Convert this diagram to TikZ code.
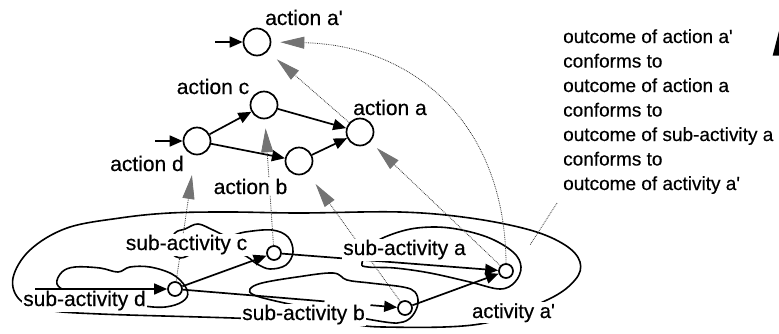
\documentclass[tikz,border=0pt]{standalone}
\usepackage{fontspec}
\setmainfont{Liberation Sans}[FakeBold=0.4]
\usetikzlibrary{arrows.meta,calc}

\begin{document}
\begin{tikzpicture}[x=1pt,y=-1pt,
  act/.style={circle,draw,line width=1.7pt,minimum size=27pt,inner sep=0pt,fill=white},
  subact/.style={circle,draw,line width=1.7pt,minimum size=14pt,inner sep=0pt,fill=white},
  flow/.style={line width=1.7pt,-{Triangle[length=13pt,width=11pt]}},
  conf/.style={densely dotted,line width=0.8pt,black!80,-{Triangle[length=24pt,width=12pt,color=black!55]}},
  pointer/.style={densely dotted,line width=0.8pt,black!80},
  blob/.style={line width=1.6pt},
  lbl/.style={font=\fontsize{21}{21}\selectfont,fill=white,inner sep=1.2pt,anchor=base},
  slbl/.style={font=\fontsize{21}{21}\selectfont,fill=white,inner sep=1.2pt,anchor=base},
  note/.style={font=\fontsize{19}{20}\selectfont,anchor=base west,inner sep=0pt}]
\useasboundingbox (0,0) rectangle (779,333);

% ---- activity a' and its sub-activities (hand-drawn outlines)
\draw[blob] plot[smooth cycle,tension=0.6] coordinates {
  (13,278) (30,250) (67,228) (120,218) (170,213) (230,212) (300,213) (400,212)
  (470,218) (530,230) (565,245) (580,262) (575,280) (547,300) (480,324)
  (383,327) (333,322) (233,318) (100,314) (47,310) (20,300)};
% sub-activity d
\draw[blob] plot[smooth cycle,tension=0.6] coordinates {
  (57,284) (62,272) (75,267) (100,268) (118,272) (130,267) (150,267) (172,274)
  (185,286) (187,297) (175,305) (153,307) (110,300) (70,292)};
% sub-activity c
\draw[blob] plot[smooth cycle,tension=0.6] coordinates {
  (185,229) (198,224) (213,230) (228,236) (245,232) (272,230) (288,237)
  (293,252) (286,265) (270,269) (257,264) (240,254) (200,252) (180,258)
  (168,248) (175,233)};
% sub-activity b
\draw[blob] plot[smooth cycle,tension=0.6] coordinates {
  (250,289) (262,283) (297,277) (333,273) (347,280) (370,283) (403,287)
  (415,292) (418,303) (413,315) (403,322) (385,322) (330,312) (280,302) (254,295)};
% sub-activity a
\draw[blob] plot[smooth cycle,tension=0.6] coordinates {
  (362,263) (372,245) (390,235) (417,228) (450,228) (487,237) (513,252)
  (521,267) (515,282) (500,289) (470,282) (430,273) (395,268) (368,267)};

% ---- action nodes
\node[act] (aap) at (257,42) {};
\node[act] (ac)  at (264,105) {};
\node[act] (ad)  at (197,141) {};
\node[act] (ab)  at (299,161) {};
\node[act] (aa)  at (360,132) {};
\coordinate (inap) at (215,42);
\coordinate (inad) at (155,141);

% ---- sub-activity nodes
\node[subact] (sd) at (175,289) {};
\node[subact] (sc) at (274,253) {};
\node[subact] (sb) at (405,308) {};
\node[subact] (sa) at (506,271) {};
\coordinate (insd) at (35,289);

% ---- control flow among actions
\draw[flow] (inap) -- (aap);
\draw[flow] (inad) -- (ad);
\draw[flow] (ad) -- (ac);
\draw[flow] (ad) -- (ab);
\draw[flow] (ac) -- (aa);
\draw[flow] (ab) -- (aa);

% ---- control flow among sub-activities
\draw[flow] (insd) -- (sd);
\draw[flow] (sd) -- (sc);
\draw[line width=1.7pt] (sd) -- ($(sd)!0.65!(sb)$);
\draw[flow] ($(sd)!0.85!(sb)$) -- (sb);
\draw[flow] (sc) -- (sa);
\draw[flow] (sb) -- (sa);

% ---- conformance relations
\draw[conf,shorten >=20pt] (sd) -- (ad);
\draw[conf,shorten >=9pt] (sc) -- (ac);
\draw[conf,shorten >=14pt] (sb) -- (ab);
\draw[conf,shorten >=9pt] (sa) -- (aa);
\draw[conf,shorten >=12pt] (aa) -- (aap);
\draw[conf,shorten >=9pt] (sa.north) .. controls (505,120) and (410,45) .. (aap.east);

% ---- labels
\node[lbl] (laap) at (304,25) {action a\textquotesingle};
\node[lbl] (lac)  at (213,94) {action c};
\node[lbl] (lad)  at (147,171) {action d};
\node[lbl] (lab)  at (250.5,194) {action b};
\node[lbl] (laa)  at (390,115) {action a};
\node[slbl] (lsc) at (186.5,250) {sub-activity c};
\node[slbl] (lsd) at (84.5,306) {sub-activity d};
\node[slbl] (lsb) at (303.5,320) {sub-activity b};
\node[slbl] (lsa) at (404.5,255) {sub-activity a};
\node[lbl,font=\fontsize{20.3}{20}\selectfont] (lact) at (513.5,318) {activity a\textquotesingle};

% ---- chain of outcomes
\foreach \t [count=\i] in {outcome of action a\textquotesingle, conforms to,
    outcome of action a, conforms to, outcome of sub-activity a, conforms to,
    outcome of activity a\textquotesingle}
  \node[note] (t\i) at (563,{43+24.5*(\i-1)}) {\t};
\coordinate (pfrom) at (557,203);
\coordinate (pto) at (530,245);
\draw[pointer] (pfrom) -- (pto);

% ---- arrowhead at the right margin
\fill (772.7,55.5) -- (779,31) -- (779,55.5) -- cycle;
\end{tikzpicture}
\end{document}
